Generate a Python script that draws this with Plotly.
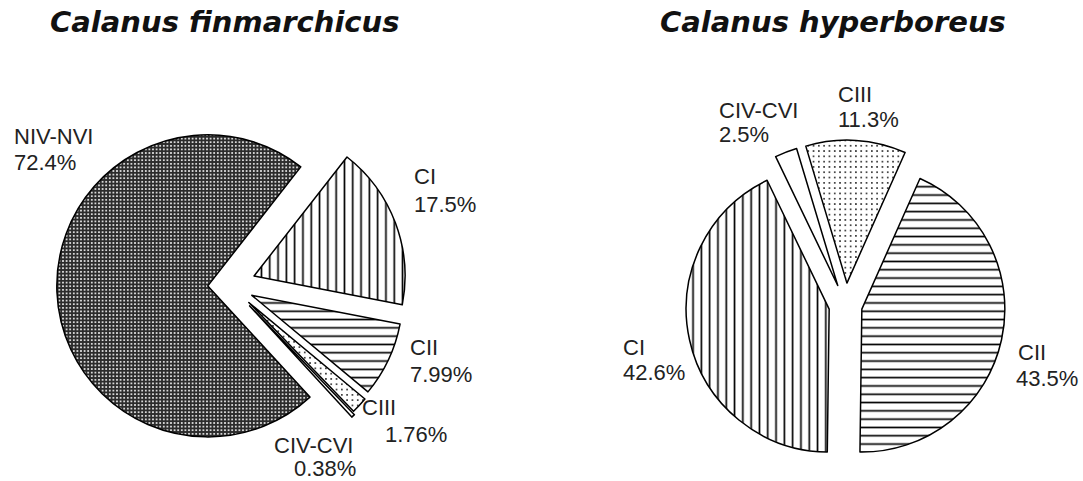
import plotly.graph_objects as go

# ---------------- data ----------------
titles = ["Calanus finmarchicus", "Calanus hyperboreus"]

fin_labels = ["CI", "CII", "CIII", "CIV-CVI", "NIV-NVI"]
fin_values = [17.5, 7.99, 1.76, 0.38, 72.4]

hyp_labels = ["CII", "CI", "CIV-CVI", "CIII"]
hyp_values = [43.5, 42.6, 2.5, 11.3]

# ---------------- layout helpers ----------------
W, H = 1083, 481


def px_x(x):
    return x / W


def px_y(y):
    return 1 - y / H


stage_style = {
    "NIV-NVI": dict(shape=".", fg="white", bg="#2b2b2b", size=3.6, solidity=0.24),
    "CI": dict(shape="|", fg="black", bg="white", size=8.3, solidity=0.2),
    "CII": dict(shape="-", fg="black", bg="white", size=8.3, solidity=0.2),
    "CIII": dict(shape=".", fg="black", bg="white", size=5.3, solidity=0.08),
    "CIV-CVI": dict(shape="", fg="black", bg="white", size=8, solidity=0.2),
}

pie_cfg = [
    dict(labels=fin_labels, values=fin_values, cx=230, cy=285, r=151, rotation=38,
         pull=[0.17, 0.16, 0.17, 0.19, 0.147], title_x=224, title_y=22),
    dict(labels=hyp_labels, values=hyp_values, cx=845.5, cy=305.5, r=143, rotation=24,
         pull=[0.117, 0.117, 0.15, 0.157], title_x=833, title_y=22),
]

# label line positions (page px): (left x, baseline) for name line and value line
label_pos = [
    {"NIV-NVI": [(12, 145), (12, 170)],
     "CI": [(412, 185), (412, 212)],
     "CII": [(408, 355), (408, 382)],
     "CIII": [(360, 415), (383, 442)],
     "CIV-CVI": [(272, 453), (292, 476)]},
    {"CIV-CVI": [(717, 118), (717, 142)],
     "CIII": [(836, 102), (836, 127)],
     "CI": [(621, 355), (621, 380)],
     "CII": [(1016, 360), (1014, 386)]},
]

label_font = dict(family="Arial, Liberation Sans, sans-serif", size=22, color="#222222")
title_font = dict(family="DejaVu Sans, sans-serif", size=29, color="#111111",
                  weight="bold", style="italic")

fig = go.Figure()
annotations = []
for cfg, title, lpos in zip(pie_cfg, titles, label_pos):
    labs = cfg["labels"]
    vals = cfg["values"]
    mp = max(cfg["pull"])
    half = cfg["r"] * (1 + mp)
    dom_x = [px_x(cfg["cx"] - half), px_x(cfg["cx"] + half)]
    dom_y = [px_y(cfg["cy"] + half), px_y(cfg["cy"] - half)]
    dom_y = [max(0, dom_y[0]), min(1, dom_y[1])]
    fig.add_trace(go.Pie(
        labels=labs, values=vals, sort=False, direction="clockwise",
        rotation=cfg["rotation"], pull=cfg["pull"], textinfo="none",
        hoverinfo="label+value", showlegend=False,
        domain=dict(x=dom_x, y=dom_y),
        marker=dict(
            colors=[stage_style[l]["bg"] for l in labs],
            line=dict(color="black", width=1.5),
            pattern=dict(
                shape=[stage_style[l]["shape"] for l in labs],
                fgcolor=[stage_style[l]["fg"] for l in labs],
                bgcolor=[stage_style[l]["bg"] for l in labs],
                size=[stage_style[l]["size"] for l in labs],
                solidity=[stage_style[l]["solidity"] for l in labs],
                fillmode="replace",
            ),
        ),
    ))
    annotations.append(dict(text=title, x=px_x(cfg["title_x"]), y=px_y(cfg["title_y"]),
                            xref="paper", yref="paper", xanchor="center", yanchor="middle",
                            showarrow=False, font=title_font))
    for lab, val in zip(labs, vals):
        (x1, b1), (x2, b2) = lpos[lab]
        for txt, x, b in ((lab, x1, b1), (f"{val}%", x2, b2)):
            annotations.append(dict(text=txt, x=px_x(x), y=px_y(b - 8),
                                    xref="paper", yref="paper", xanchor="left",
                                    yanchor="middle", showarrow=False, font=label_font))

fig.update_layout(width=W, height=H, margin=dict(l=0, r=0, t=0, b=0),
                  paper_bgcolor="white", plot_bgcolor="white",
                  annotations=annotations)
fig.write_html("out.html", config={"displayModeBar": False},
               post_script="document.body.style.margin='0';"
                           "document.body.style.overflow='hidden';")
